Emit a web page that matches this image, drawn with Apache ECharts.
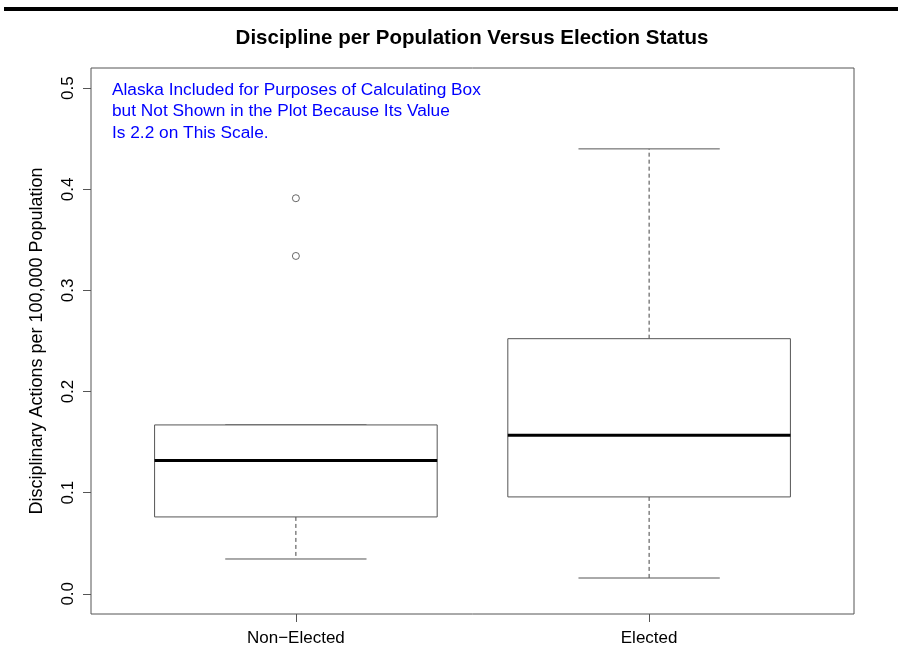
<!DOCTYPE html>
<html>
<head>
<meta charset="utf-8">
<script src="https://cdn.jsdelivr.net/npm/echarts@6/dist/echarts.min.js"></script>
<style>
html,body{margin:0;padding:0;background:#fff;}
#chart{width:898px;height:656px;}
</style>
</head>
<body>
<div id="chart"></div>
<script>
// ---- data ----
const categories = ['Non\u2212Elected', 'Elected'];
// [lower whisker, Q1, median, Q3, upper whisker]
const nonElectedBox = [0.0344, 0.076, 0.1317, 0.167, 0.167];
const electedBox = [0.0156, 0.0958, 0.1567, 0.2523, 0.440];
const nonElectedOutliers = [0.3912, 0.3341];
const electedOutliers = [];
const yTicks = [0, 0.1, 0.2, 0.3, 0.4, 0.5];

const titleText = 'Discipline per Population Versus Election Status';
const yAxisName = 'Disciplinary Actions per 100,000 Population';
const noteText = 'Alaska Included for Purposes of Calculating Box\nbut Not Shown in the Plot Because Its Value\nIs 2.2 on This Scale.';

// ---- build ----
const boxData = [
  [1].concat(nonElectedBox),
  [2].concat(electedBox)
];
const outlierData = nonElectedOutliers.map(v => [1, v]).concat(electedOutliers.map(v => [2, v]));

const LINE = '#555';
const FONT = '"Liberation Sans", Arial, Helvetica, sans-serif';

const chart = echarts.init(document.getElementById('chart'), null, {renderer: 'canvas'});
chart.setOption({
  animation: false,
  backgroundColor: '#fff',
  title: [
    {
      text: titleText,
      left: 467, top: 23, textAlign: 'center',
      textStyle: {fontFamily: FONT, fontSize: 20.5, fontWeight: 'bold', color: '#000'}
    },
    {
      text: noteText,
      left: 107, top: 74, padding: 5,
      textStyle: {fontFamily: FONT, fontSize: 17.3, fontWeight: 'normal', color: '#0000ff', lineHeight: 21.5}
    }
  ],
  graphic: [
    {type: 'rect', left: 4, top: 7, shape: {width: 894, height: 4}, style: {fill: '#000'}}
  ],
  grid: {
    left: 91, right: 44, top: 68, bottom: 42,
    show: true, borderColor: LINE, borderWidth: 1, backgroundColor: 'transparent',
    containLabel: false
  },
  xAxis: {
    type: 'value', min: 0.42, max: 2.58,
    splitLine: {show: false},
    axisLine: {show: false, onZero: false},
    axisTick: {show: true, customValues: [1, 2], length: 8, lineStyle: {color: LINE}},
    axisLabel: {
      show: true, customValues: [1, 2], margin: 16,
      fontFamily: FONT, fontSize: 17, color: '#000',
      formatter: v => categories[Math.round(v) - 1] || ''
    }
  },
  yAxis: {
    type: 'value', min: -0.02, max: 0.52,
    name: yAxisName, nameLocation: 'middle', nameGap: 45, nameRotate: 90,
    nameTextStyle: {fontFamily: FONT, fontSize: 18, color: '#000'},
    splitLine: {show: false},
    axisLine: {show: false, onZero: false},
    axisTick: {show: true, customValues: yTicks, length: 8, lineStyle: {color: LINE}},
    axisLabel: {
      show: true, customValues: yTicks, rotate: 90, margin: 14,
      fontFamily: FONT, fontSize: 17, color: '#000',
      formatter: v => v.toFixed(1)
    }
  },
  series: [
    {
      type: 'custom',
      data: boxData,
      encode: {x: 0, y: [1, 2, 3, 4, 5]},
      renderItem: function (params, api) {
        const x = api.value(0);
        const lo = api.coord([x, api.value(1)]);
        const q1 = api.coord([x, api.value(2)]);
        const md = api.coord([x, api.value(3)]);
        const q3 = api.coord([x, api.value(4)]);
        const hi = api.coord([x, api.value(5)]);
        const w = api.size([0.8, 0])[0];
        const cx = lo[0];
        const l = cx - w / 2, r = cx + w / 2;
        const cl = cx - w / 4, cr = cx + w / 4;
        const thin = {stroke: LINE, lineWidth: 1, fill: null};
        const dash = {stroke: '#444', lineWidth: 1, lineDash: [4, 3], fill: null};
        return {
          type: 'group',
          children: [
            {type: 'line', shape: {x1: cx, y1: q3[1], x2: cx, y2: hi[1]}, style: dash},
            {type: 'line', shape: {x1: cx, y1: q1[1], x2: cx, y2: lo[1]}, style: dash},
            {type: 'line', shape: {x1: cl, y1: hi[1], x2: cr, y2: hi[1]}, style: thin},
            {type: 'line', shape: {x1: cl, y1: lo[1], x2: cr, y2: lo[1]}, style: thin},
            {type: 'rect', shape: {x: l, y: q3[1], width: w, height: q1[1] - q3[1]}, style: {stroke: LINE, lineWidth: 1, fill: '#fff'}},
            {type: 'line', shape: {x1: l, y1: md[1], x2: r, y2: md[1]}, style: {stroke: '#000', lineWidth: 3}}
          ]
        };
      }
    },
    {
      type: 'scatter',
      data: outlierData,
      symbol: 'circle', symbolSize: 7,
      itemStyle: {color: '#fff', borderColor: '#444', borderWidth: 1},
      z: 5
    }
  ]
});
</script>
</body>
</html>
